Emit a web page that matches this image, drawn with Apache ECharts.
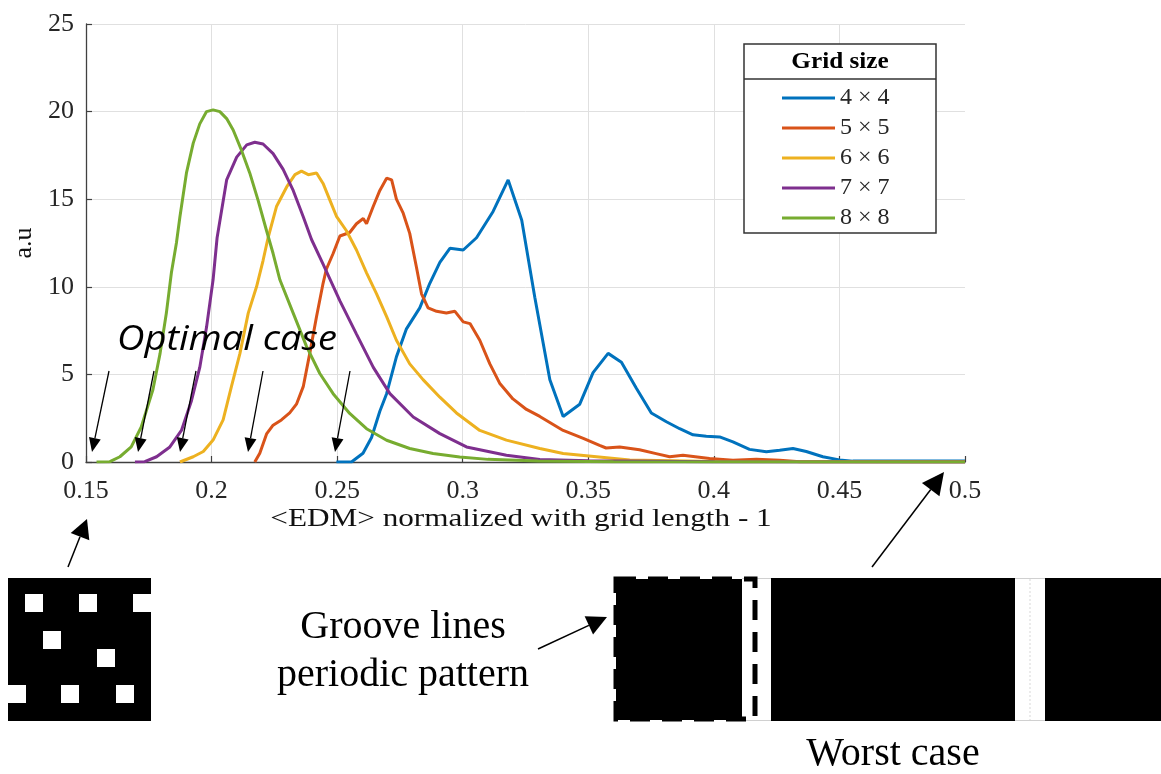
<!DOCTYPE html>
<html>
<head>
<meta charset="utf-8">
<title>EDM distribution by grid size</title>
<script src="https://cdn.jsdelivr.net/npm/echarts@6/dist/echarts.min.js"></script>
<style>
  html, body { margin: 0; padding: 0; background: #ffffff; }
  #chart { width: 1161px; height: 774px; }
</style>
</head>
<body>
<div id="chart"></div>
<script>
// ---- data -----------------------------------------------------------
const seriesNames = ['4 × 4', '5 × 5', '6 × 6', '7 × 7', '8 × 8'];
const seriesColors = ['#0072BD', '#D95319', '#EDB120', '#7E2F8E', '#77AC30'];

const xTickLabels = ['0.15', '0.2', '0.25', '0.3', '0.35', '0.4', '0.45', '0.5'];
const yTickLabels = ['0', '5', '10', '15', '20', '25'];
const xAxisTitle = '<EDM> normalized with grid length - 1';
const yAxisTitle = 'a.u';

// 4 x 4
const x4 = [0.2497, 0.2557, 0.2603, 0.2637, 0.2670, 0.2697, 0.2736, 0.2776, 0.2829, 0.2869, 0.2909, 0.2949, 0.3002, 0.3055, 0.3121, 0.3181, 0.3235, 0.3287, 0.3347, 0.3400, 0.3466, 0.3519, 0.3579, 0.3632, 0.3692, 0.3751, 0.3811, 0.3864, 0.3917, 0.3970, 0.4023, 0.4076, 0.4142, 0.4209, 0.4262, 0.4315, 0.4368, 0.4434, 0.4500, 0.4553, 0.5000];
const y4 = [0, 0, 0.5, 1.4, 2.9, 3.9, 6.0, 7.6, 8.8, 10.2, 11.4, 12.2, 12.1, 12.8, 14.3, 16.1, 13.8, 9.4, 4.7, 2.6, 3.3, 5.1, 6.2, 5.7, 4.2, 2.8, 2.3, 1.9, 1.55, 1.47, 1.43, 1.15, 0.72, 0.58, 0.67, 0.77, 0.6, 0.3, 0.12, 0.05, 0.05];

// 5 x 5
const x5 = [0.2172, 0.2192, 0.2219, 0.2245, 0.2278, 0.2311, 0.2338, 0.2365, 0.2391, 0.2418, 0.2444, 0.2457, 0.2484, 0.2511, 0.2550, 0.2577, 0.2604, 0.2617, 0.2644, 0.2670, 0.2697, 0.2717, 0.2736, 0.2763, 0.2789, 0.2816, 0.2836, 0.2862, 0.2896, 0.2935, 0.2969, 0.3002, 0.3029, 0.3068, 0.3108, 0.3147, 0.3200, 0.3254, 0.3307, 0.3400, 0.3480, 0.3545, 0.3571, 0.3625, 0.3704, 0.3770, 0.3824, 0.3877, 0.3983, 0.4076, 0.4169, 0.4262, 0.4342, 0.5000];
const y5 = [0, 0.5, 1.6, 2.1, 2.4, 2.8, 3.3, 4.3, 6.2, 8.3, 10.2, 11.0, 11.9, 12.9, 13.1, 13.6, 13.9, 13.6, 14.6, 15.5, 16.2, 16.1, 15.0, 14.2, 13.05, 11.1, 9.6, 8.8, 8.6, 8.5, 8.6, 8.0, 7.9, 6.95, 5.6, 4.5, 3.6, 3.0, 2.6, 1.8, 1.35, 0.95, 0.8, 0.85, 0.7, 0.48, 0.3, 0.38, 0.2, 0.1, 0.15, 0.1, 0.02, 0.02];

// 6 x 6
const x6 = [0.1874, 0.1927, 0.1967, 0.2006, 0.2046, 0.2079, 0.2113, 0.2146, 0.2179, 0.2205, 0.2225, 0.2259, 0.2299, 0.2332, 0.2358, 0.2385, 0.2418, 0.2444, 0.2471, 0.2498, 0.2537, 0.2577, 0.2617, 0.2657, 0.2697, 0.2736, 0.2789, 0.2842, 0.2909, 0.2975, 0.3068, 0.3174, 0.3307, 0.3400, 0.3665, 0.4000, 0.5000];
const y6 = [0, 0.3, 0.6, 1.25, 2.4, 4.3, 6.2, 8.5, 10.0, 11.5, 12.8, 14.6, 15.7, 16.4, 16.6, 16.4, 16.5, 15.9, 14.95, 14.0, 13.2, 12.1, 10.8, 9.6, 8.3, 6.95, 5.6, 4.7, 3.7, 2.8, 1.8, 1.25, 0.77, 0.48, 0.12, 0.03, 0.01];

// 7 x 7
const x7 = [0.1695, 0.1734, 0.1781, 0.1834, 0.1880, 0.1920, 0.1953, 0.1980, 0.2006, 0.2022, 0.2060, 0.2100, 0.2140, 0.2172, 0.2205, 0.2245, 0.2285, 0.2325, 0.2365, 0.2398, 0.2444, 0.2511, 0.2577, 0.2644, 0.2710, 0.2803, 0.2909, 0.3015, 0.3174, 0.3307, 0.3500, 0.4000, 0.5000];
const y7 = [0, 0.02, 0.3, 0.86, 1.8, 3.5, 5.4, 7.7, 10.4, 12.8, 16.1, 17.4, 18.1, 18.25, 18.15, 17.6, 16.7, 15.5, 14.0, 12.7, 11.3, 9.2, 7.3, 5.4, 3.9, 2.57, 1.62, 0.86, 0.38, 0.14, 0.07, 0.02, 0];

// 8 x 8
const x8 = [0.1542, 0.1595, 0.1635, 0.1680, 0.1720, 0.1766, 0.1795, 0.1820, 0.1840, 0.1860, 0.1874, 0.1900, 0.1927, 0.1953, 0.1980, 0.2006, 0.2033, 0.2060, 0.2086, 0.2119, 0.2152, 0.2185, 0.2219, 0.2245, 0.2272, 0.2325, 0.2378, 0.2431, 0.2484, 0.2550, 0.2617, 0.2697, 0.2789, 0.2882, 0.2988, 0.3100, 0.3300, 0.3600, 0.5000];
const y8 = [0, 0.02, 0.3, 0.86, 2.0, 4.1, 6.2, 8.5, 10.8, 12.5, 14.0, 16.5, 18.2, 19.3, 20.0, 20.1, 20.0, 19.6, 18.95, 17.8, 16.5, 14.95, 13.2, 11.9, 10.4, 8.5, 6.6, 5.05, 3.9, 2.77, 1.9, 1.24, 0.77, 0.48, 0.29, 0.15, 0.06, 0.02, 0];

const seriesX = [x4, x5, x6, x7, x8];
const seriesY = [y4, y5, y6, y7, y8];

// ---- helpers --------------------------------------------------------
const SERIF = '"Liberation Serif", "Times New Roman", serif';
const AXIS_COLOR = '#404040';

function zip(xs, ys) { return xs.map((x, i) => [x, ys[i]]); }

// arrow made of a shaft and a filled triangular head, tip at (x2, y2)
function arrow(x1, y1, x2, y2, headLen, headWidth, lw) {
  const dx = x2 - x1, dy = y2 - y1, L = Math.hypot(dx, dy);
  const ux = dx / L, uy = dy / L;
  const bx = x2 - ux * headLen, by = y2 - uy * headLen;
  const px = -uy, py = ux, h = headWidth / 2;
  return [
    { type: 'line', z: 100, shape: { x1: x1, y1: y1, x2: bx, y2: by },
      style: { stroke: '#000', lineWidth: lw } },
    { type: 'polygon', z: 100,
      shape: { points: [[x2, y2], [bx + px * h, by + py * h], [bx - px * h, by - py * h]] },
      style: { fill: '#000' } }
  ];
}

// ---- annotation graphics --------------------------------------------
const graphics = [];

// x axis title (drawn slightly widened, like the tick labels of the figure)
graphics.push({ type: 'text', z: 50, x: 521, y: 519, scaleX: 1.2,
  style: { text: xAxisTitle, font: '26px ' + SERIF, fill: '#111',
    textAlign: 'center', textVerticalAlign: 'middle' } });

// legend frame with heading
graphics.push({ type: 'rect', z: 5, shape: { x: 744, y: 44, width: 192, height: 189 },
  style: { fill: '#fff', stroke: '#333', lineWidth: 1.5 } });
graphics.push({ type: 'line', z: 6, shape: { x1: 744, y1: 79, x2: 936, y2: 79 },
  style: { stroke: '#333', lineWidth: 1.5 } });
graphics.push({ type: 'text', z: 6, x: 840, y: 62, scaleX: 1.05,
  style: { text: 'Grid size', font: 'bold 24px ' + SERIF, fill: '#000',
    textAlign: 'center', textVerticalAlign: 'middle' } });

// "Optimal case" label and its arrows
graphics.push({ type: 'text', z: 100, x: 117, y: 340, scaleX: 1.12,
  style: { text: 'Optimal case', font: 'italic 34px "Open Sans", sans-serif', fill: '#000',
    textAlign: 'left', textVerticalAlign: 'middle' } });
[[109, 371, 92, 452], [154, 371, 138, 452], [196, 371, 180, 452],
 [263, 371, 248, 452], [350, 371, 335, 452]].forEach(a => {
  graphics.push(...arrow(a[0], a[1], a[2], a[3], 14, 12, 1.3));
});

// scattered-square pattern (lower left)
graphics.push({ type: 'rect', z: 100, shape: { x: 8, y: 578, width: 143, height: 143 }, style: { fill: '#000' } });
[[25, 594], [79, 594], [133, 594], [43, 631], [97, 649], [8, 685], [61, 685], [116, 685]].forEach(p => {
  const w = Math.min(18, 151 - p[0]);
  graphics.push({ type: 'rect', z: 101, shape: { x: p[0], y: p[1], width: w, height: 18 }, style: { fill: '#fff' } });
});
graphics.push(...arrow(68, 567, 87, 519, 19, 20, 1.5));

// groove-line pattern (lower right)
graphics.push({ type: 'rect', z: 100, shape: { x: 616, y: 579, width: 126, height: 141 }, style: { fill: '#000' } });
graphics.push({ type: 'rect', z: 100, shape: { x: 771, y: 578, width: 244, height: 143 }, style: { fill: '#000' } });
graphics.push({ type: 'rect', z: 100, shape: { x: 1045, y: 578, width: 116, height: 143 }, style: { fill: '#000' } });
[[742, 771], [1015, 1045]].forEach(g => {
  graphics.push({ type: 'line', z: 99, shape: { x1: g[0], y1: 578.5, x2: g[1], y2: 578.5 }, style: { stroke: '#d0d0d0', lineWidth: 1 } });
  graphics.push({ type: 'line', z: 99, shape: { x1: g[0], y1: 720.5, x2: g[1], y2: 720.5 }, style: { stroke: '#d0d0d0', lineWidth: 1 } });
});
graphics.push({ type: 'line', z: 99, shape: { x1: 1030, y1: 579, x2: 1030, y2: 720 },
  style: { stroke: '#d8d8d8', lineWidth: 1, lineDash: [2, 2] } });
graphics.push({ type: 'rect', z: 102, shape: { x: 616, y: 579, width: 139, height: 140 },
  style: { fill: 'none', stroke: '#000', lineWidth: 5, lineDash: [20, 12] } });

graphics.push({ type: 'text', z: 100, x: 403, y: 627,
  style: { text: 'Groove lines', font: '40px ' + SERIF, fill: '#000', textAlign: 'center', textVerticalAlign: 'middle' } });
graphics.push({ type: 'text', z: 100, x: 403, y: 675,
  style: { text: 'periodic pattern', font: '40px ' + SERIF, fill: '#000', textAlign: 'center', textVerticalAlign: 'middle' } });
graphics.push(...arrow(538, 649, 607, 617, 20, 20, 1.5));

graphics.push({ type: 'text', z: 100, x: 893, y: 754,
  style: { text: 'Worst case', font: '40px ' + SERIF, fill: '#000', textAlign: 'center', textVerticalAlign: 'middle' } });
graphics.push(...arrow(872, 567, 944, 472, 22, 22, 1.5));

// ---- chart ------------------------------------------------------------
const chart = echarts.init(document.getElementById('chart'), null, { renderer: 'canvas' });

chart.setOption({
  backgroundColor: '#ffffff',
  animation: false,
  grid: { left: 86, top: 24, right: 196, bottom: 312, containLabel: false },
  legend: {
    data: seriesNames,
    orient: 'vertical',
    left: 777,
    top: 81,
    z: 10,
    icon: 'rect',
    itemWidth: 53,
    itemHeight: 3,
    itemGap: 6,
    selectedMode: false,
    textStyle: { fontFamily: SERIF, fontSize: 24, color: '#262626', lineHeight: 24 }
  },
  xAxis: {
    type: 'value',
    min: 0.15,
    max: 0.5,
    interval: 0.05,
    axisLine: { show: true, lineStyle: { color: AXIS_COLOR, width: 1.3 } },
    axisTick: { show: true, inside: true, length: 6, lineStyle: { color: AXIS_COLOR, width: 1.2 } },
    axisLabel: {
      margin: 16,
      fontFamily: SERIF, fontSize: 26, color: '#262626',
      formatter: function (v) { return xTickLabels[Math.round((v - 0.15) / 0.05)]; }
    },
    splitLine: { show: true, showMinLine: false, showMaxLine: false, lineStyle: { color: '#e0e0e0', width: 1 } }
  },
  yAxis: {
    type: 'value',
    min: 0,
    max: 25,
    interval: 5,
    name: yAxisTitle,
    nameLocation: 'middle',
    nameRotate: 90,
    nameGap: 40,
    nameTextStyle: { fontFamily: SERIF, fontSize: 26, color: '#111' },
    axisLine: { show: true, lineStyle: { color: AXIS_COLOR, width: 1.3 } },
    axisTick: { show: true, inside: true, length: 6, lineStyle: { color: AXIS_COLOR, width: 1.2 } },
    axisLabel: {
      margin: 12,
      fontFamily: SERIF, fontSize: 26, color: '#262626',
      formatter: function (v) { return yTickLabels[Math.round(v / 5)]; }
    },
    splitLine: { show: true, showMinLine: false, lineStyle: { color: '#e0e0e0', width: 1 } }
  },
  series: seriesNames.map((name, i) => ({
    name: name,
    type: 'line',
    data: zip(seriesX[i], seriesY[i]),
    showSymbol: false,
    symbol: 'none',
    smooth: false,
    color: seriesColors[i],
    lineStyle: { color: seriesColors[i], width: 3 },
    z: 2 + i
  })),
  graphic: graphics
});
</script>
</body>
</html>
